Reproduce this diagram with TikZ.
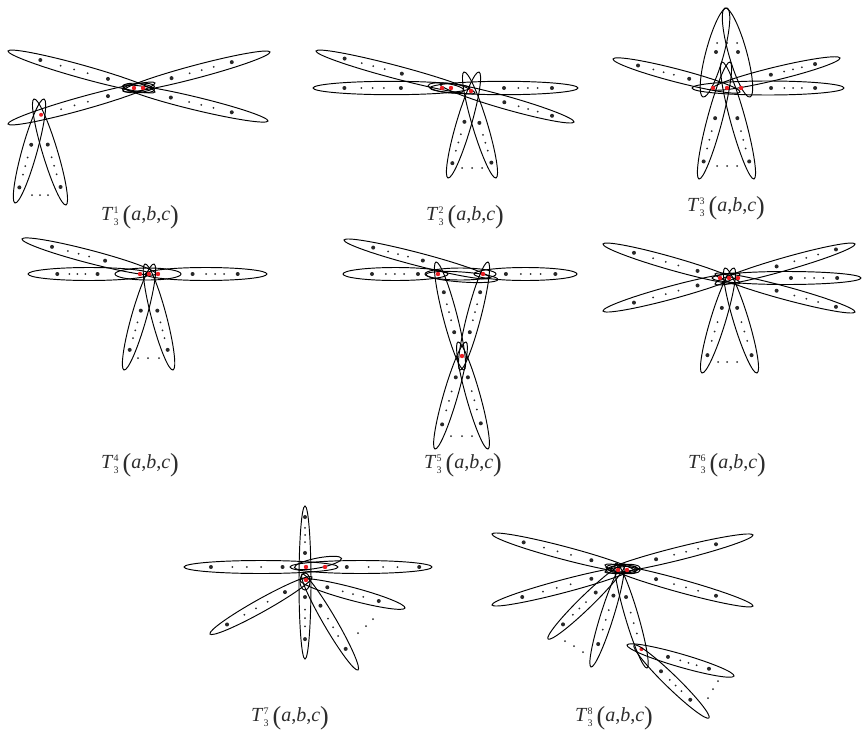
\documentclass[tikz,border=0pt]{standalone}
\usepackage{fontspec}
\setmainfont{Liberation Serif}
\usetikzlibrary{calc,shapes.geometric}
\definecolor{dotc}{RGB}{40,40,40}
\definecolor{redc}{RGB}{235,30,35}
\definecolor{labc}{RGB}{45,45,45}
\newcounter{pc}
\newcommand\BigDotR{2.0pt}
\newcommand\SmallDotR{1.0pt}
\tikzset{
  petal/.style={ellipse, draw=black, line width=0.95pt, inner sep=0pt, outer sep=0pt},
  lab/.style={text=labc, inner sep=0pt, font=\fontsize{20}{20}\selectfont}
}
% ellipse between two tips, half width #3
\newcommand\pell[3]{%
  \stepcounter{pc}%
  \path let \p1=(#1), \p2=(#2), \n1={atan2(\y2-\y1,\x2-\x1)}, \n2={veclen(\x2-\x1,\y2-\y1)} in
    node[petal, minimum width=\n2, minimum height={2*#3}, rotate=\n1] (e\arabic{pc}) at ($(\p1)!0.5!(\p2)$) {};}
% dot pattern along A-B: big at #4 (colour #1), big at #5, three small between
\newcommand\dset[5][dotc]{%
  \fill[#1] ($(#2)!#4!(#3)$) circle[radius=\BigDotR];
  \fill[dotc] ($(#2)!#5!(#3)$) circle[radius=\BigDotR];
  \foreach \t in {0.3,0.5,0.7}{\pgfmathsetmacro\ff{#4+(#5-#4)*\t}\fill[dotc] ($(#2)!\ff!(#3)$) circle[radius=\SmallDotR];}}
\newcommand\parm[6][dotc]{\pell{#2}{#3}{#4}\dset[#1]{#2}{#3}{#5}{#6}}
\newcommand\rdot[1]{\fill[redc] (#1) circle[radius=2.2pt];}
\newcommand\bdot[1]{\fill[dotc] (#1) circle[radius=\BigDotR];}
\newcommand\sdots[1]{\foreach \q in {#1}{\fill[dotc] \q circle[radius=\SmallDotR];}}
\newcommand\labtxt[1]{\textit{T}\kern0.3pt\rlap{\raisebox{7.5pt}{\fontsize{10}{10}\selectfont #1}}\raisebox{-5pt}{\fontsize{10}{10}\selectfont 3}\kern4pt\raisebox{-2.5pt}{\fontsize{26}{26}\selectfont(}\textit{a},\textit{b},\textit{c}\raisebox{-2.5pt}{\fontsize{26}{26}\selectfont)}}
\begin{document}
\begin{tikzpicture}[x=1pt,y=-1pt]
\useasboundingbox (0,0) rectangle (862,731);
\fill[white] (0,0) rectangle (862,731);

% ---------------- Panel 1
\parm{8,51}{155,92}{6.5}{0.22}{0.68}
\parm{270,52}{123,91}{6.5}{0.26}{0.67}
\parm{268,121}{123,86}{6.5}{0.25}{0.67}
\parm[redc]{8,124}{155,83}{6.5}{0.225}{0.68}
\node[petal, minimum width=32, minimum height=9, rotate=6] (c1a) at (138.5,88) {};
\node[petal, minimum width=32, minimum height=9, rotate=-6] (c1b) at (138.5,88) {};
\parm{15,203}{44,99}{7.5}{0.15}{0.56}
\parm{66,205}{34,99}{7.5}{0.17}{0.57}
\sdots{(32,195),(40,195),(48,195)}
\rdot{134,88}\rdot{143,88}
\node[lab] (l1) at (140,217) {\labtxt{1}};

% ---------------- Panel 2
\parm{316,51}{475,93}{6.5}{0.18}{0.54}
\parm{313,88}{470,88}{6.7}{0.20}{0.56}
\parm{578,88}{430,88}{6.7}{0.176}{0.5}
\parm{574,122}{440,84}{6.5}{0.164}{0.52}
\node[petal, minimum width=36, minimum height=9, rotate=-8] (c2) at (446,88) {};
\parm{448,178}{479,72}{7.5}{0.14}{0.53}
\parm{496,178}{464,72}{7.5}{0.145}{0.52}
\sdots{(462,168),(472,168),(482,168)}
\rdot{442,88}\rdot{451,88}\rdot{471,91}
\node[lab] (l2) at (465,217) {\labtxt{2}};

% ---------------- Panel 3
\pell{727,8}{703,97}{9}
\pell{725,8}{750,97}{9}
\bdot{716,52}\bdot{738,52}
\sdots{(717,43),(727,43),(737,43)}
\parm{699,179}{730,62}{7.5}{0.15}{0.52}
\parm{754,179}{722,62}{7.5}{0.15}{0.52}
\sdots{(717,166),(727,166),(737,166)}
\parm{613,59}{740,92}{6.5}{0.197}{0.6}
\parm{840,58}{712,89}{6.5}{0.195}{0.54}
\parm{844,88}{692,88}{7}{0.19}{0.48}
\rdot{713,88}\rdot{727,88}\rdot{741,88}
\node[lab] (l3) at (726,208) {\labtxt{3}};

% ---------------- Panel 4
\parm{22,239}{156,274}{6.5}{0.224}{0.62}
\parm{28,274}{150,274}{6.5}{0.24}{0.57}
\parm{267,274}{145,274}{6.5}{0.24}{0.61}
\node[petal, minimum width=66, minimum height=12] (c4) at (148,274) {};
\parm{124,370}{154,264}{7.5}{0.19}{0.56}
\parm{173,370}{145,264}{7.5}{0.19}{0.56}
\sdots{(138,358),(148,358),(159,358)}
\rdot{140,274}\rdot{149,274}\rdot{158,274}
\node[lab] (l4) at (140,465) {\labtxt{4}};

% ---------------- Panel 5
\parm{344,240}{490,278}{6.5}{0.2}{0.54}
\parm{343,274}{448,274}{6.5}{0.276}{0.714}
\parm{577,274}{474,274}{6.5}{0.21}{0.69}
\node[petal, minimum width=71, minimum height=12] (c5a) at (460.5,274) {};
\node[petal, minimum width=72, minimum height=10, rotate=-4] (c5b) at (462,277) {};
\parm{436,262}{464,370}{7}{0.28}{0.65}
\parm{488,262}{460,370}{7}{0.28}{0.65}
\parm{435,449}{466,342}{7}{0.23}{0.67}
\parm{488,449}{458,342}{7}{0.24}{0.67}
\sdots{(451,436),(462,436),(472,436)}
\rdot{438,274}\rdot{483,274}\rdot{462,356}
\node[lab] (l5) at (463,465) {\labtxt{5}};

% ---------------- Panel 6
\parm{603,244}{740,283}{6.5}{0.226}{0.69}
\parm{603,311}{740,274}{6.5}{0.226}{0.69}
\parm{855,244}{715,284}{6.5}{0.136}{0.56}
\parm{855,312}{715,274}{6.5}{0.136}{0.56}
\parm{861,278}{712,278}{6.5}{0.16}{0.47}
\parm{702,373}{734,268}{7.5}{0.17}{0.62}
\parm{757,373}{725,268}{7.5}{0.17}{0.62}
\sdots{(718,362),(727,362),(737,362)}
\rdot{720,278}\rdot{729,278}\rdot{738,278}
\node[lab] (l6) at (727,465) {\labtxt{6}};

% ---------------- Panel 7
\pell{305,506}{305,659}{6}
\dset{305,506}{305,659}{0.072}{0.307}
\dset{305,506}{305,659}{0.595}{0.87}
\parm{184,567}{338,567}{6.5}{0.175}{0.64}
\parm{432,567}{290,567}{6.5}{0.09}{0.6}
\node[petal, minimum width=48, minimum height=10, rotate=11] (c7a) at (318,563) {};
\node[petal, minimum width=10, minimum height=17] (c7b) at (305,581.5) {};
\parm{210,634}{312,577}{6.5}{0.167}{0.735}
\parm{405,608}{300,580}{6.5}{0.25}{0.74}
\parm{358,670}{302,574}{6.5}{0.22}{0.67}
\sdots{(358,633),(366,626),(373,619)}
\rdot{306,567}\rdot{325,567}\rdot{306,580}
\node[lab] (l7) at (290,718) {\labtxt{7}};

% ---------------- Panel 8
\parm{492,534}{636,572}{6.5}{0.22}{0.69}
\parm{492,605}{636,567}{6.5}{0.21}{0.69}
\parm{753,535}{605,572}{6.5}{0.25}{0.655}
\parm{753,606}{605,565}{6.5}{0.25}{0.655}
\node[petal, minimum width=34, minimum height=9, rotate=5] (c8a) at (623,569) {};
\node[petal, minimum width=34, minimum height=9, rotate=-5] (c8b) at (623,569) {};
\parm{548,639}{625,564}{6.5}{0.195}{0.62}
\parm{591,667}{623,565}{6.5}{0.225}{0.7}
\parm[redc]{647,668}{616,563}{6.5}{0.18}{0.676}
\sdots{(565,641),(574,646),(583,652)}
\parm{734,676}{627,645}{6.5}{0.234}{0.617}
\parm{709,718}{634,645}{6.5}{0.25}{0.64}
\sdots{(718,681),(713,689),(708,698)}
\rdot{618,570}\rdot{627,570}
\node[lab] (l8) at (614,718) {\labtxt{8}};
\end{tikzpicture}
\end{document}
